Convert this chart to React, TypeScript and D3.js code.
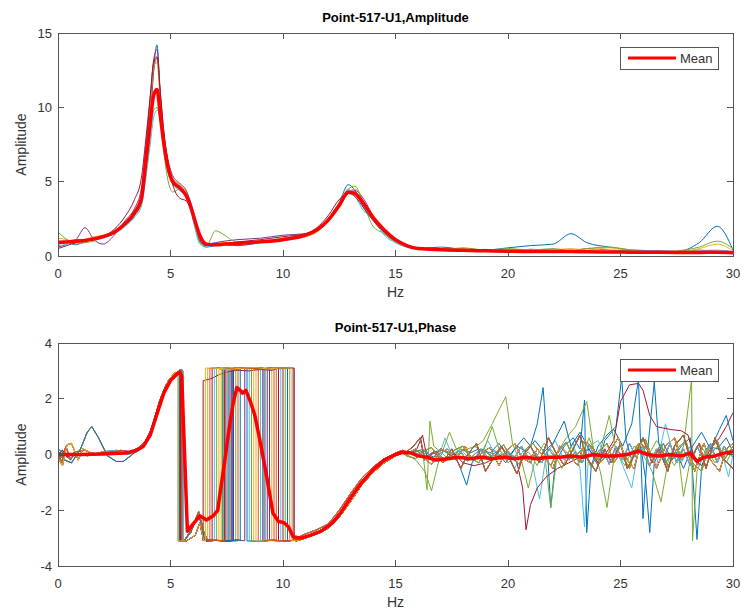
import React from "react";
import * as d3 from "d3";

// MATLAB default colour order for the individual measurements
const lineColors = ["#0072BD", "#D95319", "#EDB120", "#7E2F8E", "#77AC30", "#4DBEEE", "#A2142F"];
const meanColor = "#FF0000";

const xTicks = [0, 5, 10, 15, 20, 25, 30];
const ampTicks = [0, 5, 10, 15];
const phaseTicks = [-4, -2, 0, 2, 4];

// ---------- Amplitude ----------
const ampHz = [0, 0.4, 0.8, 1.2, 1.6, 2, 2.5, 3, 3.4, 3.7, 3.9, 4.1, 4.25, 4.4, 4.55, 4.7, 4.9, 5.1, 5.4, 5.7,
  5.9, 6.1, 6.3, 6.6, 7, 7.4, 8, 9, 10, 11, 11.5, 12, 12.5, 12.9, 13.2, 13.6, 14, 14.5, 15, 15.5,
  16, 17, 18, 19, 20, 21, 22, 22.8, 23.5, 24.5, 25.5, 26.5, 27.5, 28.5, 29.3, 30];

const ampMean = [0.9, 0.95, 1.0, 1.05, 1.15, 1.3, 1.6, 2.2, 2.9, 3.8, 6.3, 9.0, 10.8, 11.2, 9.4, 7.6, 5.9, 5.0, 4.6, 4.05,
  3.3, 2.3, 1.4, 0.8, 0.75, 0.8, 0.85, 0.95, 1.1, 1.4, 1.75, 2.4, 3.4, 4.3, 4.2, 3.5, 2.6, 1.75, 1.1, 0.7,
  0.5, 0.42, 0.38, 0.35, 0.32, 0.3, 0.3, 0.3, 0.28, 0.27, 0.26, 0.25, 0.24, 0.24, 0.25, 0.22];

const ampBlue = [0.8, 0.9, 0.75, 1.0, 1.1, 1.25, 1.5, 2.1, 2.7, 3.6, 5.8, 8.8, 12.5, 14.2, 10.5, 7.8, 5.6, 4.9, 4.5, 4.0,
  3.2, 2.0, 1.0, 0.6, 0.7, 0.75, 0.7, 0.9, 1.1, 1.4, 1.8, 2.5, 3.6, 4.8, 4.4, 3.2, 2.4, 1.5, 1.0, 0.65,
  0.5, 0.6, 0.45, 0.4, 0.55, 0.7, 0.8, 1.5, 0.9, 0.6, 0.4, 0.35, 0.3, 0.9, 2.0, 0.4];
const ampOrange = [1.0, 1.0, 1.1, 1.1, 1.2, 1.35, 1.6, 2.3, 3.0, 4.0, 6.6, 9.5, 12.4, 13.3, 10.8, 8.2, 6.2, 5.2, 4.8, 4.2,
  3.5, 2.3, 1.2, 0.7, 0.8, 0.8, 0.9, 1.0, 1.15, 1.45, 1.8, 2.5, 3.5, 4.2, 4.3, 3.5, 2.5, 1.6, 1.0, 0.7,
  0.55, 0.45, 0.4, 0.38, 0.35, 0.45, 0.4, 0.35, 0.5, 0.4, 0.35, 0.3, 0.3, 0.4, 0.3, 0.2];
const ampYellow = [1.2, 1.1, 0.9, 1.1, 1.3, 1.4, 1.7, 2.3, 3.1, 4.2, 7.0, 10.2, 12.8, 13.0, 10.2, 8.0, 6.1, 5.2, 4.8, 4.3,
  3.5, 2.2, 1.1, 0.7, 0.85, 0.9, 0.9, 1.0, 1.1, 1.3, 1.6, 2.3, 3.3, 4.3, 4.5, 3.6, 2.5, 1.6, 1.0, 0.7,
  0.55, 0.45, 0.5, 0.4, 0.45, 0.35, 0.4, 0.5, 0.4, 0.55, 0.35, 0.3, 0.25, 0.5, 0.8, 0.35];
const ampPurple = [0.6, 0.8, 1.1, 1.9, 1.1, 0.8, 1.4, 2.4, 3.2, 4.5, 7.3, 10.6, 13.2, 13.9, 11.0, 8.4, 6.4, 5.4, 4.9, 4.4,
  3.6, 2.5, 1.3, 0.8, 0.9, 1.0, 1.1, 1.2, 1.4, 1.5, 1.7, 2.4, 3.3, 4.2, 4.4, 3.8, 2.7, 1.7, 1.1, 0.75,
  0.55, 0.5, 0.4, 0.35, 0.3, 0.3, 0.3, 0.35, 0.3, 0.3, 0.25, 0.2, 0.25, 0.3, 0.25, 0.2];
const ampGreen = [1.6, 1.1, 0.8, 0.9, 1.0, 1.3, 1.6, 2.2, 2.8, 3.5, 5.5, 8.0, 9.8, 10.0, 9.0, 7.0, 5.0, 4.3, 4.5, 4.2,
  3.2, 1.9, 0.9, 0.7, 1.7, 1.4, 0.9, 1.0, 1.2, 1.5, 1.8, 2.5, 3.6, 4.5, 4.7, 3.4, 2.0, 1.5, 0.9, 0.6,
  0.5, 0.4, 0.55, 0.4, 0.5, 0.4, 0.5, 0.35, 0.5, 0.6, 0.4, 0.3, 0.35, 0.6, 1.0, 0.5];
const ampCyan = [0.7, 0.8, 1.0, 1.0, 1.1, 1.2, 1.5, 2.0, 2.6, 3.3, 5.2, 7.5, 9.3, 9.8, 9.6, 7.4, 5.6, 4.8, 4.4, 3.9,
  3.0, 1.8, 0.8, 0.6, 0.8, 0.85, 0.8, 0.9, 1.05, 1.35, 1.7, 2.4, 3.4, 4.5, 4.0, 3.0, 2.6, 1.4, 0.9, 0.6,
  0.45, 0.5, 0.4, 0.45, 0.35, 0.45, 0.35, 0.4, 0.35, 0.3, 0.4, 0.35, 0.3, 0.35, 0.4, 0.3];
const ampDarkRed = [0.5, 0.7, 0.9, 1.0, 1.1, 1.3, 1.8, 2.7, 3.8, 5.2, 7.8, 10.8, 13.0, 13.4, 10.9, 8.4, 6.2, 4.8, 3.9, 3.7,
  3.2, 2.3, 1.1, 0.7, 0.8, 0.85, 0.95, 1.1, 1.3, 1.5, 1.9, 2.7, 3.8, 4.2, 4.0, 3.2, 2.4, 1.6, 1.0, 0.7,
  0.5, 0.45, 0.4, 0.35, 0.3, 0.35, 0.3, 0.3, 0.3, 0.25, 0.25, 0.25, 0.25, 0.3, 0.3, 0.25];

const ampTraces = [ampBlue, ampOrange, ampYellow, ampPurple, ampGreen, ampCyan, ampDarkRed];

// ---------- Phase ----------
type Pt = [number, number];

const wrapLevel = 3.1;

const phaseHeads: Pt[][] = [
  [[0, 0], [0.2, 0.15], [0.4, -0.1], [0.7, 0.05], [1, 0], [2, 0.05], [3, 0.05], [3.5, 0.15], [3.8, 0.35], [4.1, 0.8], [4.4, 1.6], [4.7, 2.3], [5.0, 2.75], [5.3, 2.95], [5.45, 3.0]],
  [[0, 0], [0.3, -0.2], [0.6, -0.3], [1.0, 0.2], [1.3, 0.8], [1.5, 1.0], [1.8, 0.6], [2.2, -0.05], [2.6, -0.25], [2.9, -0.25], [3.3, 0], [3.6, 0.2], [4.0, 0.6], [4.3, 1.3], [4.6, 2.1], [4.9, 2.6], [5.2, 2.9], [5.4, 2.95]],
  [[0, 0.1], [0.15, -0.3], [0.35, 0.3], [0.55, -0.2], [0.8, 0.1], [1.2, 0.15], [1.6, 0], [2.4, 0.1], [2.8, 0.15], [3.2, 0.1], [3.6, 0.25], [3.9, 0.5], [4.2, 1.0], [4.5, 1.9], [4.8, 2.5], [5.1, 2.85], [5.5, 3.05]],
  [[0, -0.1], [0.2, -0.4], [0.4, 0.35], [0.6, 0.4], [0.9, -0.2], [1.1, 0.2], [1.5, 0.05], [2, 0], [3, 0.05], [3.6, 0.2], [4.0, 0.55], [4.3, 1.2], [4.6, 2.0], [4.9, 2.65], [5.2, 2.95], [5.35, 2.9]],
  [[0, 0.2], [0.25, 0.05], [0.5, -0.15], [0.9, 0.05], [1.3, -0.05], [2, 0.1], [2.6, 0.15], [3.1, 0], [3.5, 0.1], [3.9, 0.45], [4.2, 0.95], [4.5, 1.75], [4.8, 2.4], [5.1, 2.8], [5.4, 3.05], [5.55, 3.0]],
];

const phaseBumps: Pt[][] = [
  [[5.6, -3.1], [5.9, -2.8], [6.2, -2.15], [6.4, -2.5], [6.5, -3.05]],
  [[5.6, -3.1], [6.0, -2.6], [6.25, -2.05], [6.45, -2.7], [6.65, -3.1]],
  [[5.7, -3.1], [6.1, -2.9], [6.3, -2.45], [6.45, -3.0], [6.6, -3.1]],
];

const bottomLine: Pt[] = [[5.6, -3.1], [6.0, -3.08], [6.5, -3.12], [7.0, -3.08], [7.5, -3.1], [8.0, -3.06], [8.5, -3.1], [9.0, -3.12], [9.5, -3.07], [10.0, -3.1], [10.5, -3.08]];

const phaseTops: Pt[][] = [
  [[6.4, 3.1], [6.9, 3.08], [7.4, 3.12], [7.9, 3.07], [8.4, 3.11], [8.9, 3.06], [9.4, 3.1], [9.9, 3.08], [10.5, 3.11]],
  [[6.4, 3.12], [7.0, 3.1], [7.6, 3.05], [8.2, 3.1], [8.8, 3.12], [9.3, 3.07], [9.8, 3.1], [10.5, 3.08]],
  [[6.47, 2.65], [6.8, 2.72], [7.2, 2.88], [7.6, 2.98], [8.0, 3.02], [8.5, 3.0], [9.0, 3.05], [9.5, 3.02], [10.0, 3.05]],
];
const curvedTopTrace = 6;

const phaseRises: Pt[][] = [
  [[10.6, -3.05], [11, -2.95], [11.5, -2.8], [12, -2.55], [12.5, -2.15], [13, -1.55], [13.5, -1.0], [14, -0.55], [14.5, -0.2], [15, 0.0], [15.3, 0.1]],
  [[10.6, -3.0], [11, -2.85], [11.5, -2.7], [12, -2.5], [12.5, -2.0], [13, -1.4], [13.5, -0.85], [14, -0.45], [14.5, -0.15], [15, 0.05], [15.3, 0.15]],
  [[10.6, -3.1], [11, -3.0], [11.5, -2.85], [12, -2.65], [12.5, -2.25], [13, -1.7], [13.5, -1.1], [14, -0.65], [14.5, -0.3], [15, -0.05], [15.3, 0.05]],
];

const phaseTails: Pt[][] = [
  [[15.5, 0.1], [15.9, 0.05], [16.3, -0.1], [16.7, 0.1], [17.1, 0.15], [17.5, -0.05], [17.9, 0.2], [18.3, 0.05], [18.7, 0.2], [19.1, -0.15], [19.5, 0.1], [19.9, -0.3], [20.3, 0.2], [20.7, 0.6], [21.0, 0.3], [21.3, 1.1], [21.56, 2.4], [21.75, 0.2], [21.9, -1.9], [22.1, -0.3], [22.5, 0.3], [22.9, 0.6], [23.2, 0.2], [23.4, 1.95], [23.5, -2.8], [23.7, -0.4], [24.0, 0.3], [24.4, 0.7], [24.8, 1.0], [25.05, 2.75], [25.25, 0.5], [25.5, -0.2], [25.9, 0.3], [26.1, -0.8], [26.3, -2.8], [26.5, -0.3], [26.9, 0.4], [27.3, -0.2], [27.7, 0.3], [28.1, 0.6], [28.4, -3.05], [28.6, -0.5], [28.9, 0.3], [29.3, 0.2], [29.7, 0.6], [30, 0.1]],
  [[15.5, 0], [15.9, 0.15], [16.3, 0.1], [16.7, -0.1], [17.0, 0.2], [17.4, 0.05], [17.8, -0.3], [18.16, -1.1], [18.4, -0.3], [18.8, 0.2], [19.2, 0.05], [19.6, 0.4], [20.0, -0.1], [20.4, 0.3], [20.8, 0.1], [21.2, 0.5], [21.6, 0.1], [22.0, 0.4], [22.5, 1.2], [22.8, 0.3], [23.2, 0.8], [23.6, 0.2], [24.0, -0.4], [24.3, 0.5], [24.7, 0.9], [25.1, 0.3], [25.5, 1.1], [25.8, 2.7], [26.0, -2.3], [26.2, 0.1], [26.5, 2.6], [26.7, 0.4], [27.0, -0.3], [27.4, 0.2], [27.8, -0.5], [28.2, 0.3], [28.6, 0.8], [29.0, 0.2], [29.4, 0.9], [29.7, 1.4], [30, 0.5]],
  [[15.5, 0.05], [15.9, 0.1], [16.2, 0.2], [16.4, -1.27], [16.53, 1.2], [16.7, 0.3], [17.0, 0.1], [17.4, -0.2], [17.8, 0.1], [18.2, 0.2], [18.6, 0.3], [18.9, 0.5], [19.3, 1.1], [19.6, 1.6], [19.9, 2.07], [20.2, 0.4], [20.5, -0.2], [20.9, 0.1], [21.3, -0.4], [21.6, 0.2], [21.9, -1.9], [22.2, 0.1], [22.6, 0.6], [23.0, 1.0], [23.5, 1.9], [23.8, 0.2], [24.1, -0.6], [24.4, -1.9], [24.7, -0.2], [25.0, 0.3], [25.4, -0.3], [25.8, 0.4], [26.2, -0.1], [26.6, 0.5], [27.0, 0.1], [27.4, -0.4], [27.8, 0.3], [28.16, 2.7], [28.2, -3.1], [28.4, -0.6], [28.8, 0.2], [29.2, -0.3], [29.6, 0.2], [30, -0.1]],
  [[15.5, 0.05], [15.9, 0.1], [16.2, 0.7], [16.4, -0.1], [16.8, 0.1], [17.2, -0.2], [17.6, 0.05], [18.0, -0.3], [18.5, -0.4], [19, -0.3], [19.5, -0.1], [20.0, 0.1], [20.4, -0.3], [20.65, -1.2], [20.8, -2.7], [21.0, -1.8], [21.3, -1.2], [21.7, -0.8], [22.2, -0.5], [22.7, -0.3], [23.2, -0.1], [23.6, 0.2], [24.0, -0.3], [24.4, 0.1], [24.7, 0.5], [25.0, 1.9], [25.4, 2.5], [25.8, 2.55], [26.0, 2.3], [26.3, 1.4], [26.6, 1.0], [27.2, 0.9], [27.7, 0.85], [28.0, 0.7], [28.3, -0.2], [28.6, -0.4], [29.0, 0.2], [29.4, 0.6], [29.7, 1.0], [30, 1.5]],
  [[15.5, 0.1], [15.9, -0.05], [16.3, 0.2], [16.7, -0.3], [17.0, 0.1], [17.2, 0.6], [17.5, 0], [17.9, 0.2], [18.3, -0.2], [18.7, -0.1], [19.1, 0.5], [19.5, -0.1], [19.9, 0.2], [20.3, -0.5], [20.7, 0.2], [21.1, -0.4], [21.4, -1.6], [21.7, 0], [22.1, 0.5], [22.5, -0.2], [22.9, 0.4], [23.2, -0.5], [23.4, -2.6], [23.6, 0.3], [24.0, 0.5], [24.4, -0.2], [24.8, 0.2], [25.2, -0.6], [25.5, -1.2], [25.8, 0.2], [26.2, 0.3], [26.6, -0.4], [27.0, 1.1], [27.3, 0.1], [27.7, -0.3], [28.1, 0.3], [28.5, -0.4], [28.9, 0.3], [29.3, 0.5], [29.6, -0.2], [29.8, -0.8], [30, 0.0]],
  [[15.5, 0], [15.9, -0.2], [16.3, -0.6], [16.6, -1.3], [16.9, -0.3], [17.4, 0.8], [17.7, 0.2], [18.1, -0.1], [18.5, 0.3], [18.9, 0.1], [19.3, 1.0], [19.6, 0.2], [20.0, -0.3], [20.5, 0.1], [20.9, -1.2], [21.2, -0.2], [21.6, 0.4], [22.0, 0.1], [22.4, -0.5], [22.8, 0.3], [23.2, -0.3], [23.6, 0.6], [24.0, -0.2], [24.5, 1.4], [24.8, 0.1], [25.2, -0.4], [25.6, 0.3], [26.0, 0], [26.4, -0.6], [26.8, -1.7], [27.1, -0.3], [27.5, 0.5], [27.8, -1.5], [28.1, -0.2], [28.5, 0.4], [28.9, -0.1], [29.3, 0.3], [29.7, -0.3], [30, 0.2]],
  [[15.5, 0.05], [15.8, 0.15], [16.1, -0.1], [16.4, 0.1], [16.7, -0.2], [17.0, 0.05], [17.3, 0.2], [17.6, -0.1], [17.9, 0.1], [18.2, -0.25], [18.5, 0], [18.8, 0.2], [19.1, -0.1], [19.4, 0.15], [19.7, -0.2], [20.0, 0.1], [20.3, -0.1], [20.6, 0.3], [20.9, -0.2], [21.2, 0.1], [21.5, -0.3], [21.8, 0.2], [22.1, -0.1], [22.4, 0.3], [22.7, -0.2], [23.0, 0.1], [23.3, -0.3], [23.6, 0.35], [23.9, -0.1], [24.2, 0.2], [24.5, -0.35], [24.8, 0.3], [25.1, -0.2], [25.4, 0.4], [25.7, -0.1], [26.0, 0.3], [26.3, -0.4], [26.6, 0.2], [26.9, -0.2], [27.2, 0.4], [27.5, -0.3], [27.8, 0.2], [28.1, -0.4], [28.4, 0.3], [28.7, -0.2], [29.0, 0.4], [29.3, -0.3], [29.6, 0.3], [30, -0.1]],
  [[15.5, -0.05], [15.9, -0.15], [16.2, 0.1], [16.6, 0.25], [16.9, -0.05], [17.2, -0.25], [17.6, 0.15], [18.0, 0.3], [18.3, -0.1], [18.7, -0.3], [19.0, 0.1], [19.4, -0.15], [19.8, 0.35], [20.1, -0.05], [20.5, -0.35], [20.8, 0.2], [21.1, 0.4], [21.5, 0], [21.9, -0.4], [22.2, 0.1], [22.6, 0.45], [22.9, -0.15], [23.3, 0.2], [23.7, -0.45], [24.0, 0.1], [24.4, 0.4], [24.7, -0.3], [25.0, 0.05], [25.4, -0.5], [25.7, 0.3], [26.1, 0.55], [26.4, -0.1], [26.8, 0.35], [27.1, -0.45], [27.5, 0.2], [27.9, 0.5], [28.2, -0.3], [28.6, -0.6], [28.9, 0.2], [29.3, 0.5], [29.6, -0.2], [30, 0.3]],
  [[15.5, 0.1], [15.8, 0.3], [16.1, 0.6], [16.3, -0.2], [16.7, 0.1], [17.1, -0.3], [17.5, 0.2], [17.9, -0.5], [18.2, 0], [18.6, 0.4], [19.0, -0.6], [19.3, -0.2], [19.7, 0.3], [20.1, -0.2], [20.4, -0.7], [20.7, 0], [21.0, 0.3], [21.4, -0.3], [21.8, 0.6], [22.1, 0.1], [22.5, -0.4], [22.9, 0.2], [23.2, 0.7], [23.5, -0.1], [23.9, -0.6], [24.3, 0.2], [24.6, -0.3], [25.0, 0.4], [25.3, -0.5], [25.7, 0.1], [26.0, 0.6], [26.4, -0.3], [26.7, 0.2], [27.1, -0.6], [27.4, 0.3], [27.8, 0.7], [28.1, -0.2], [28.5, 0.4], [28.8, -0.5], [29.2, 0.6], [29.5, -0.1], [30, -0.5]],
  [[15.5, 0], [15.9, 0.2], [16.3, -0.15], [16.6, -0.35], [17.0, 0.2], [17.3, 0.1], [17.7, -0.15], [18.1, 0.3], [18.4, -0.2], [18.8, 0.05], [19.2, 0.25], [19.6, -0.4], [19.9, 0.1], [20.3, 0.4], [20.6, -0.1], [21.0, -0.3], [21.3, 0.2], [21.7, -0.2], [22.0, -0.5], [22.3, 0.3], [22.7, 0], [23.1, -0.4], [23.4, 0.5], [23.8, 0.2], [24.1, -0.3], [24.5, 0.1], [24.9, 0.6], [25.2, -0.1], [25.6, -0.5], [25.9, 0.4], [26.3, 0.1], [26.6, -0.5], [27.0, 0.3], [27.4, 0.6], [27.7, -0.2], [28.0, 0.1], [28.3, -0.6], [28.7, 0.4], [29.0, -0.2], [29.4, -0.6], [29.7, 0.2], [30, 0.4]],
];

// where each measurement wraps up to +pi and back down to -pi
const upJumps = [7.3, 7.55, 6.65, 7.8, 7.05, 7.65, 6.45, 7.75, 8.0, 7.15, 7.4, 7.9, 7.5, 6.85, 7.6, 6.75, 7.25, 8.3, 7.35, 6.95, 7.7, 8.1, 7.45, 6.55];
const downJumps = [9.2, 8.9, 9.5, 9.4, 10.1, 8.5, 9.8, 9.1, 9.6, 8.7, 9.3, 10.3, 9.0, 10.5, 8.4, 9.7, 8.8, 10.45, 8.6, 9.9, 10.0, 10.2, 9.15, 10.4];
const tailOrder = [0, 6, 7, 8, 2, 4, 3, 1, 9, 6, 9, 5, 7, 8, 9, 7, 8, 6, 7, 6, 9, 8, 8, 9];

const phaseMean: Pt[] = [[0, 0], [0.5, 0.0], [1, 0.0], [2, 0.02], [3, 0.05], [3.5, 0.15], [3.8, 0.3], [4.1, 0.7], [4.4, 1.45], [4.7, 2.2], [5.0, 2.65], [5.3, 2.9], [5.4, 2.95], [5.5, 2.8], [5.75, -2.75], [6.0, -2.5], [6.3, -2.2], [6.6, -2.35], [6.9, -2.2], [7.1, -2.0], [7.2, -1.4], [7.4, -0.3], [7.6, 0.9], [7.8, 1.9], [7.95, 2.4], [8.1, 2.3], [8.2, 2.2], [8.35, 2.3], [8.55, 1.9], [8.75, 1.4], [9.0, 0.4], [9.3, -0.9], [9.55, -2.1], [9.8, -2.4], [10.05, -2.45], [10.25, -2.6], [10.45, -2.95], [10.8, -3.0], [11.2, -2.9], [11.7, -2.75], [12.2, -2.45], [12.6, -2.05], [13.0, -1.55], [13.5, -1.0], [14.0, -0.55], [14.5, -0.2], [15.0, 0.0], [15.3, 0.08], [15.7, 0.05], [16.0, -0.05], [16.4, -0.1], [16.8, -0.2], [17.3, -0.15], [17.8, -0.1], [18.3, -0.15], [18.8, -0.1], [19.3, -0.15], [19.8, -0.1], [20.3, -0.15], [20.8, -0.1], [21.3, -0.15], [21.8, -0.1], [22.3, -0.1], [22.8, -0.05], [23.3, -0.1], [23.8, 0], [24.3, -0.05], [24.8, -0.05], [25.3, 0], [25.8, 0.12], [26.2, 0], [26.7, -0.05], [27.2, 0], [27.7, -0.05], [28.1, 0.05], [28.4, -0.25], [28.7, -0.1], [29.2, -0.05], [29.6, 0.05], [30, 0.1]];

function buildPhaseTrace(i: number): Pt[] {
  const up = upJumps[i];
  const down = downJumps[i];
  const head = phaseHeads[i % phaseHeads.length];
  const dropX = head[head.length - 1][0];
  const bump = phaseBumps[i % phaseBumps.length].filter((p) => p[0] < up);
  const lastBump = bump.length ? bump[bump.length - 1][0] : dropX;
  const top = phaseTops[i === curvedTopTrace ? 2 : i % 2].filter((p) => p[0] > up && p[0] < down);
  const rise = phaseRises[i % phaseRises.length];
  const tail = phaseTails[tailOrder[i]];
  return [
    ...head,
    [dropX, -wrapLevel],
    ...bump,
    ...bottomLine.filter((p) => p[0] > lastBump && p[0] < up),
    [up, -wrapLevel],
    [up, top.length ? top[0][1] : wrapLevel],
    ...top,
    [down, wrapLevel],
    [down, -wrapLevel],
    ...bottomLine.filter((p) => p[0] > down && p[0] < rise[0][0]),
    ...rise,
    ...tail,
  ];
}

// ---------- layout ----------
const W = 741;
const H = 610;
const plotLeft = 58;
const plotRight = 733;
const font = "'Liberation Sans', Arial, Helvetica, sans-serif";
const axisColor = "#555";
const textColor = "#333";
const tickLen = 6;

const x = d3.scaleLinear().domain([0, 30]).range([plotLeft, plotRight]);

type PanelProps = {
  id: string;
  top: number;
  bottom: number;
  yScale: d3.ScaleLinear<number, number>;
  yTicks: number[];
  title: string;
  legendTop: number;
  children: React.ReactNode;
};

function Panel({ id, top, bottom, yScale, yTicks, title, legendTop, children }: PanelProps) {
  const midY = (top + bottom) / 2;
  return (
    <g>
      <defs>
        <clipPath id={id}>
          <rect x={plotLeft} y={top} width={plotRight - plotLeft} height={bottom - top} />
        </clipPath>
      </defs>
      <g clipPath={`url(#${id})`}>{children}</g>

      <g stroke={axisColor} strokeWidth={1} shapeRendering="crispEdges" fill="none">
        <rect x={plotLeft} y={top} width={plotRight - plotLeft} height={bottom - top} />
        {xTicks.map((t) => (
          <g key={"x" + t}>
            <line x1={x(t)} x2={x(t)} y1={bottom} y2={bottom - tickLen} />
            <line x1={x(t)} x2={x(t)} y1={top} y2={top + tickLen} />
          </g>
        ))}
        {yTicks.map((t) => (
          <g key={"y" + t}>
            <line x1={plotLeft} x2={plotLeft + tickLen} y1={yScale(t)} y2={yScale(t)} />
            <line x1={plotRight} x2={plotRight - tickLen} y1={yScale(t)} y2={yScale(t)} />
          </g>
        ))}
      </g>

      <g fontFamily={font} fontSize={13} fill={textColor}>
        {xTicks.map((t) => (
          <text key={"xl" + t} x={x(t)} y={bottom + 22} textAnchor="middle">
            {t}
          </text>
        ))}
        {yTicks.map((t) => (
          <text key={"yl" + t} x={plotLeft - 6} y={yScale(t) + 4.5} textAnchor="end">
            {t}
          </text>
        ))}
        <text x={(plotLeft + plotRight) / 2} y={bottom + 41} textAnchor="middle" fontSize={14}>
          Hz
        </text>
        <text transform={`translate(26,${midY}) rotate(-90)`} textAnchor="middle" fontSize={14}>
          Amplitude
        </text>
        <text x={(plotLeft + plotRight) / 2} y={top - 11} textAnchor="middle" fontWeight="bold" fill="#000">
          {title}
        </text>
      </g>

      <g>
        <rect x={620} y={legendTop} width={98} height={22} fill="#fff" stroke={axisColor} strokeWidth={1} shapeRendering="crispEdges" />
        <line x1={628} x2={676} y1={legendTop + 11} y2={legendTop + 11} stroke={meanColor} strokeWidth={3} />
        <text x={680} y={legendTop + 16} fontFamily={font} fontSize={13} fill={textColor}>
          Mean
        </text>
      </g>
    </g>
  );
}

export default function App() {
  const ampY = d3.scaleLinear().domain([0, 15]).range([256, 33]);
  const phaseY = d3.scaleLinear().domain([-4, 4]).range([566, 343]);

  const ampLine = d3
    .line<number>()
    .x((_, i) => x(ampHz[i]))
    .y((d) => ampY(d))
    .curve(d3.curveMonotoneX);

  const phaseLine = d3
    .line<Pt>()
    .x((d) => x(d[0]))
    .y((d) => phaseY(d[1]));

  const phaseTraces = upJumps.map((_, i) => buildPhaseTrace(i));

  return (
    <div style={{ position: "absolute", left: 0, top: 0 }}>
      <svg width={W} height={H} style={{ display: "block", background: "#fff" }}>
        <Panel id="clipAmp" top={33} bottom={256} yScale={ampY} yTicks={ampTicks} title="Point-517-U1,Amplitude" legendTop={47}>
          {ampTraces.map((tr, i) => (
            <path key={i} d={ampLine(tr) || ""} fill="none" stroke={lineColors[i % lineColors.length]} strokeWidth={1} />
          ))}
          <path d={ampLine(ampMean) || ""} fill="none" stroke={meanColor} strokeWidth={3.5} strokeLinejoin="round" />
        </Panel>

        <Panel id="clipPhase" top={343} bottom={566} yScale={phaseY} yTicks={phaseTicks} title="Point-517-U1,Phase" legendTop={359}>
          {phaseTraces.map((tr, i) => (
            <path key={i} d={phaseLine(tr) || ""} fill="none" stroke={lineColors[i % lineColors.length]} strokeWidth={1} />
          ))}
          <path d={phaseLine(phaseMean) || ""} fill="none" stroke={meanColor} strokeWidth={3.5} strokeLinejoin="round" />
        </Panel>
      </svg>
    </div>
  );
}
